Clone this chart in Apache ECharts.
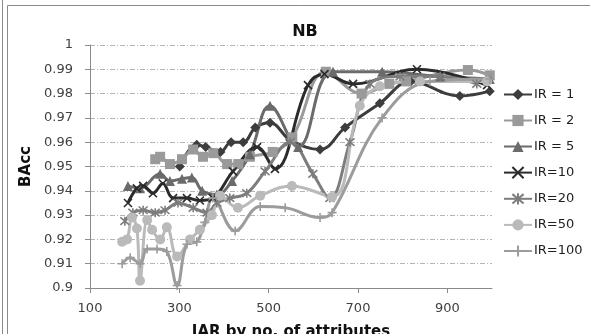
<!DOCTYPE html>
<html>
<head>
<meta charset="utf-8">
<script src="https://cdn.jsdelivr.net/npm/echarts@6/dist/echarts.min.js"></script>
<style>
  html, body { margin: 0; padding: 0; background: #ffffff; }
  #chart { width: 590px; height: 334px; }
</style>
</head>
<body>
<div id="chart"></div>
<script>
// Balanced accuracy of Naive Bayes against IAR (number of attributes), one line per imbalance ratio.
const seriesNames = ['IR = 1', 'IR = 2', 'IR = 5', 'IR=10', 'IR=20', 'IR=50', 'IR=100'];

const ir1Attrs = [301, 339, 359, 392, 416, 443, 470, 503, 548, 615, 671, 749, 818, 928, 995];
const ir1BAcc  = [0.950, 0.959, 0.958, 0.956, 0.960, 0.960, 0.966, 0.968, 0.961, 0.957, 0.966, 0.976, 0.985, 0.979, 0.981];

const ir2Attrs = [246, 257, 279, 306, 331, 353, 376, 407, 432, 458, 509, 553, 628, 708, 770, 808, 946, 995];
const ir2BAcc  = [0.953, 0.954, 0.951, 0.953, 0.957, 0.954, 0.9555, 0.951, 0.951, 0.954, 0.956, 0.962, 0.989, 0.980, 0.984, 0.985, 0.9897, 0.9875];

const ir5Attrs = [185, 212, 257, 279, 306, 328, 351, 384, 418, 458, 503, 566, 644, 754, 884, 995];
const ir5BAcc  = [0.942, 0.941, 0.947, 0.944, 0.945, 0.9455, 0.940, 0.9385, 0.944, 0.955, 0.975, 0.958, 0.989, 0.989, 0.987, 0.986];

const ir10Attrs = [185, 205, 219, 241, 263, 286, 317, 346, 375, 420, 474, 514, 588, 625, 689, 832, 989];
const ir10BAcc  = [0.935, 0.941, 0.942, 0.939, 0.943, 0.937, 0.937, 0.936, 0.937, 0.948, 0.958, 0.949, 0.9835, 0.988, 0.984, 0.990, 0.9835];

const ir20Attrs = [178, 196, 219, 246, 268, 297, 331, 362, 384, 413, 451, 492, 548, 599, 637, 682, 727, 794, 884, 966];
const ir20BAcc  = [0.9275, 0.931, 0.932, 0.931, 0.932, 0.935, 0.933, 0.931, 0.935, 0.937, 0.939, 0.948, 0.960, 0.947, 0.937, 0.960, 0.984, 0.987, 0.987, 0.984];

const ir50Attrs = [172, 183, 194, 205, 212, 228, 239, 257, 272, 295, 324, 346, 373, 391, 431, 481, 552, 642, 704, 749, 839, 989];
const ir50BAcc  = [0.919, 0.920, 0.929, 0.9245, 0.903, 0.928, 0.924, 0.920, 0.925, 0.913, 0.920, 0.924, 0.930, 0.938, 0.933, 0.938, 0.942, 0.9375, 0.975, 0.983, 0.985, 0.985];

const ir100Attrs = [172, 190, 212, 228, 250, 272, 295, 317, 339, 357, 375, 425, 481, 537, 615, 642, 754, 861, 995];
const ir100BAcc  = [0.910, 0.9125, 0.910, 0.916, 0.916, 0.915, 0.901, 0.918, 0.919, 0.927, 0.937, 0.9235, 0.9335, 0.933, 0.929, 0.931, 0.970, 0.985, 0.986];

const xTickValues = [100, 300, 500, 700, 900];

const attrLists = [ir1Attrs, ir2Attrs, ir5Attrs, ir10Attrs, ir20Attrs, ir50Attrs, ir100Attrs];
const baccLists = [ir1BAcc, ir2BAcc, ir5BAcc, ir10BAcc, ir20BAcc, ir50BAcc, ir100BAcc];

const FONT = '"DejaVu Sans", Verdana, sans-serif';

const styles = [
  { color: '#3d3d3d', symbol: 'diamond', size: 10, stroke: false },
  { color: '#9a9a9a', symbol: 'rect', size: 10, stroke: false },
  { color: '#6b6b6b', symbol: 'triangle', size: 10, stroke: false },
  { color: '#2b2b2b', symbol: 'path://M0,0L10,10M10,0L0,10', size: 8, stroke: true },
  { color: '#7d7d7d', symbol: 'path://M0,0L10,10M10,0L0,10M5,-1L5,11', size: 9, stroke: true },
  { color: '#bababa', symbol: 'circle', size: 10, stroke: false },
  { color: '#9c9c9c', symbol: 'path://M5,0L5,10M0,5L10,5', size: 9, stroke: true }
];

const series = seriesNames.map((name, i) => {
  const st = styles[i];
  return {
    name: name,
    type: 'line',
    smooth: 0.4,
    data: attrLists[i].map((x, k) => [x, baccLists[i][k]]),
    symbol: st.symbol,
    symbolSize: st.size,
    showSymbol: true,
    lineStyle: { color: st.color, width: 3 },
    itemStyle: st.stroke
      ? { color: st.color, borderColor: st.color, borderWidth: 1.6 }
      : { color: st.color, borderColor: st.color, borderWidth: 0 },
    emphasis: { disabled: true },
    animation: false
  };
});

const chart = echarts.init(document.getElementById('chart'), null, { renderer: 'canvas' });
chart.setOption({
  animation: false,
  backgroundColor: '#ffffff',
  color: styles.map(s => s.color),
  title: {
    text: 'NB',
    left: 300,
    top: 19,
    textAlign: 'center',
    textStyle: { fontFamily: FONT, fontSize: 16, fontWeight: 'bold', color: '#111111' }
  },
  grid: { left: 90, right: 98, top: 45, bottom: 46, containLabel: false, outerBoundsMode: 'none' },
  legend: {
    orient: 'vertical',
    left: 498,
    top: 83,
    itemWidth: 28,
    itemHeight: 14,
    itemGap: 13,
    textStyle: { fontFamily: FONT, fontSize: 13, color: '#1e1e1e', padding: [0, 0, 0, -3] },
    data: seriesNames
  },
  xAxis: {
    type: 'value',
    min: 100,
    max: 1000,
    interval: 100,
    name: 'IAR by no. of attributes',
    nameLocation: 'middle',
    nameGap: 37,
    nameTextStyle: { fontFamily: FONT, fontSize: 15, fontWeight: 'bold', color: '#111111' },
    axisLine: { show: true, lineStyle: { color: '#8a8a8a', width: 1 } },
    axisTick: { show: true, length: 5, lineStyle: { color: '#8a8a8a' }, customValues: xTickValues },
    axisLabel: { fontFamily: FONT, fontSize: 13, color: '#404040', margin: 14, customValues: xTickValues },
    splitLine: { show: false }
  },
  yAxis: {
    type: 'value',
    min: 0.9,
    max: 1,
    interval: 0.01,
    name: 'BAcc',
    nameLocation: 'middle',
    nameGap: 56,
    nameTextStyle: { fontFamily: FONT, fontSize: 15, fontWeight: 'bold', color: '#111111' },
    axisLine: { show: true, lineStyle: { color: '#8a8a8a', width: 1 } },
    axisTick: { show: true, length: 5, lineStyle: { color: '#8a8a8a' } },
    axisLabel: {
      fontFamily: FONT, fontSize: 13, color: '#404040', margin: 17,
      formatter: v => String(parseFloat(v.toFixed(2)))
    },
    splitLine: { show: true, lineStyle: { color: '#b5b5b5', width: 1, type: [5, 2, 1, 2] } }
  },
  graphic: [
    { type: 'line', silent: true, shape: { x1: 2.5, y1: 0, x2: 2.5, y2: 334 }, style: { stroke: '#8a8a8a', lineWidth: 1 } },
    { type: 'rect', silent: true, shape: { x: 7.5, y: 5.5, width: 700, height: 500 }, style: { fill: 'none', stroke: '#8a8a8a', lineWidth: 1 } }
  ],
  series: series
});
</script>
</body>
</html>
